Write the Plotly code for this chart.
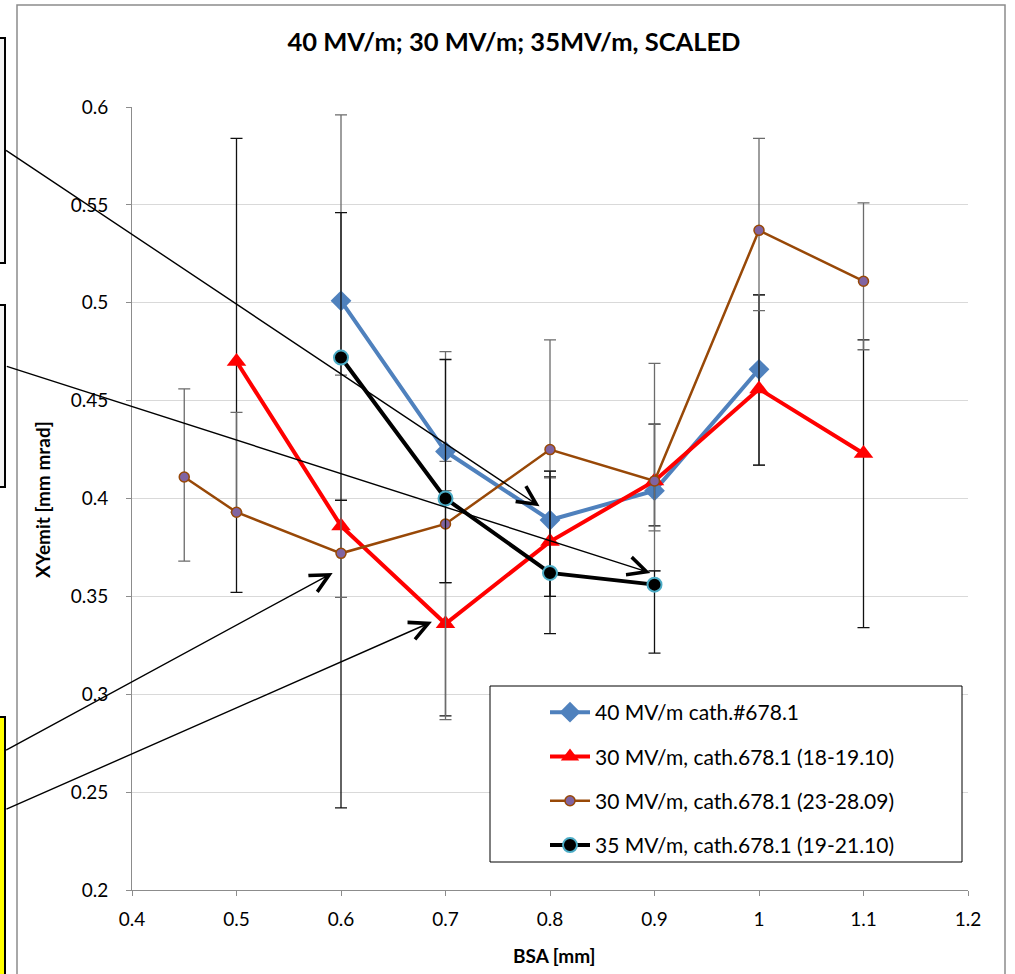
import plotly.graph_objects as go

# ---------------- data ----------------
x_blue = [0.6, 0.7, 0.8, 0.9, 1.0]
y_blue = [0.501, 0.424, 0.389, 0.404, 0.466]
blue_plus = [0.095, 0.051, 0.025, 0.065, 0.038]
blue_minus = [0.038, 0.005, 0.039, 0.041, 0.049]

x_red = [0.5, 0.6, 0.7, 0.8, 0.9, 1.0, 1.1]
y_red = [0.470, 0.386, 0.336, 0.378, 0.409, 0.456, 0.423]
red_plus = [0.114, 0.013, 0.021, 0.033, 0.029, 0.048, 0.058]
red_minus = [0.118, 0.144, 0.047, 0.047, 0.023, 0.039, 0.089]

x_brown = [0.45, 0.5, 0.6, 0.7, 0.8, 0.9, 1.0, 1.1]
y_brown = [0.411, 0.393, 0.372, 0.387, 0.425, 0.409, 0.537, 0.511]
brown_plus = [0.045, 0.051, 0.027, 0.017, 0.056, 0.029, 0.047, 0.040]
brown_minus = [0.043, 0.0, 0.0225, 0.100, 0.0145, 0.0255, 0.041, 0.035]

x_black = [0.6, 0.7, 0.8, 0.9]
y_black = [0.472, 0.400, 0.362, 0.356]
black_plus = [0.074, 0.071, 0.052, 0.007]
black_minus = [0.073, 0.043, 0.012, 0.035]

names = [
    "40 MV/m cath.#678.1",
    "30 MV/m, cath.678.1 (18-19.10)",
    "30 MV/m, cath.678.1 (23-28.09)",
    "35 MV/m, cath.678.1 (19-21.10)",
]

title_text = "40 MV/m; 30 MV/m; 35MV/m, SCALED"
x_title = "BSA [mm]"
y_title = "XYemit [mm mrad]"

# arrow heads (data coords) and tail offsets (px)
arrow_heads = [(0.790, 0.396), (0.896, 0.362), (0.592, 0.362), (0.687, 0.337)]
arrow_tails = [(-535, -357), (-645, -207), (-328, 178), (-427, 188)]

# ---------------- layout geometry ----------------
W, H = 1015, 974
ML, MR, MT, MB = 132, 47, 107, 84
PW, PH = W - ML - MR, H - MT - MB


def px(xp):
    return (xp - ML) / PW


def py(yp):
    return (H - MB - yp) / PH


FONT = "Lato, Carlito, Calibri, sans-serif"

fig = go.Figure()


def err(plus, minus, color):
    return dict(type="data", symmetric=False, array=plus, arrayminus=minus,
                color=color, thickness=1.3, width=6)


fig.add_trace(go.Scatter(
    x=x_blue, y=y_blue, name=names[0], mode="lines+markers", legendgroup="a",
    line=dict(color="#4F81BD", width=4),
    marker=dict(symbol="diamond", size=16, color="#4F81BD"),
    error_y=err(blue_plus, blue_minus, "#6b6b6b"),
))
fig.add_trace(go.Scatter(
    x=x_red, y=y_red, name=names[1], mode="lines+markers", legendgroup="b",
    line=dict(color="#FF0000", width=4),
    marker=dict(symbol="triangle-up", size=17, color="#FF0000"),
    error_y=err(red_plus, red_minus, "#111111"),
))
fig.add_trace(go.Scatter(
    x=x_brown, y=y_brown, name=names[2], mode="lines+markers", legendgroup="c",
    line=dict(color="#984807", width=2.5),
    marker=dict(symbol="circle", size=10, color="#8064A2",
                line=dict(color="#984807", width=1.5)),
    error_y=err(brown_plus, brown_minus, "#6b6b6b"),
))
fig.add_trace(go.Scatter(
    x=x_black, y=y_black, name=names[3], mode="lines+markers", legendgroup="d",
    line=dict(color="#000000", width=4),
    marker=dict(symbol="circle", size=14, color="#000000",
                line=dict(color="#4BACC6", width=2)),
    error_y=err(black_plus, black_minus, "#111111"),
))

shapes = []
# chart-area border
shapes.append(dict(type="rect", xref="paper", yref="paper",
                   x0=px(17), x1=px(1005), y0=py(1010), y1=py(5),
                   line=dict(color="#8c8c8c", width=1.5), fillcolor="rgba(0,0,0,0)",
                   layer="below"))
# legend box
shapes.append(dict(type="rect", xref="paper", yref="paper",
                   x0=px(490), x1=px(962), y0=py(862), y1=py(686),
                   line=dict(color="#000000", width=1), fillcolor="white",
                   layer="above"))
# cut-off text boxes on the left
shapes.append(dict(type="rect", xref="paper", yref="paper",
                   x0=px(-60), x1=px(5), y0=py(263), y1=py(38),
                   line=dict(color="#000000", width=2), fillcolor="#F2F2F2"))
shapes.append(dict(type="rect", xref="paper", yref="paper",
                   x0=px(-60), x1=px(5), y0=py(487), y1=py(305),
                   line=dict(color="#000000", width=2), fillcolor="#F2F2F2"))
shapes.append(dict(type="rect", xref="paper", yref="paper",
                   x0=px(-60), x1=px(5), y0=py(1010), y1=py(717),
                   line=dict(color="#000000", width=2), fillcolor="#FFFF00"))

annotations = []
for (hx, hy), (tx, ty) in zip(arrow_heads, arrow_tails):
    annotations.append(dict(x=hx, y=hy, xref="x", yref="y", ax=tx, ay=ty,
                            axref="pixel", ayref="pixel", text="",
                            showarrow=True, arrowhead=5, arrowsize=2.6,
                            arrowwidth=1.4, arrowcolor="#000000"))
annotations.append(dict(text="<b>%s</b>" % y_title, xref="paper", yref="paper",
                        x=px(42), y=py(500), textangle=-90, showarrow=False,
                        xanchor="center", yanchor="middle",
                        font=dict(size=19, color="#000000", family=FONT)))
annotations.append(dict(text="<b>%s</b>" % x_title, xref="paper", yref="paper",
                        x=px(554), y=py(955), showarrow=False,
                        xanchor="center", yanchor="middle",
                        font=dict(size=19, color="#000000", family=FONT)))

fig.update_layout(
    width=W, height=H,
    margin=dict(l=ML, r=MR, t=MT, b=MB),
    paper_bgcolor="white", plot_bgcolor="white",
    font=dict(family=FONT, color="#000000", size=19),
    title=dict(text="<b>%s</b>" % title_text, x=514 / W, xanchor="center",
               y=1 - 42 / H, yanchor="middle",
               font=dict(size=25.5, family=FONT, color="#000000")),
    xaxis=dict(range=[0.4, 1.2], dtick=0.1, tick0=0.4, showgrid=False,
               showline=True, linecolor="#8c8c8c", linewidth=1,
               ticks="outside", ticklen=5, tickcolor="#8c8c8c",
               ticklabelstandoff=7, zeroline=False,
               tickfont=dict(size=19, family=FONT)),
    yaxis=dict(range=[0.2, 0.6], dtick=0.05, tick0=0.2, showgrid=True,
               gridcolor="#d9d9d9", gridwidth=1,
               showline=True, linecolor="#8c8c8c", linewidth=1,
               ticks="outside", ticklen=5, tickcolor="#8c8c8c",
               ticklabelstandoff=14,
               zeroline=False, tickfont=dict(size=19, family=FONT)),
    showlegend=True,
    legend=dict(x=px(545), y=py(692), xanchor="left", yanchor="top",
                bgcolor="rgba(0,0,0,0)", borderwidth=0,
                font=dict(size=21, family=FONT), tracegroupgap=14,
                itemwidth=40),
    shapes=shapes,
    annotations=annotations,
)

fig.write_html("out.html",
               config={"displayModeBar": False},
               post_script="document.body.style.margin='0';"
                           "document.body.style.overflow='hidden';")
